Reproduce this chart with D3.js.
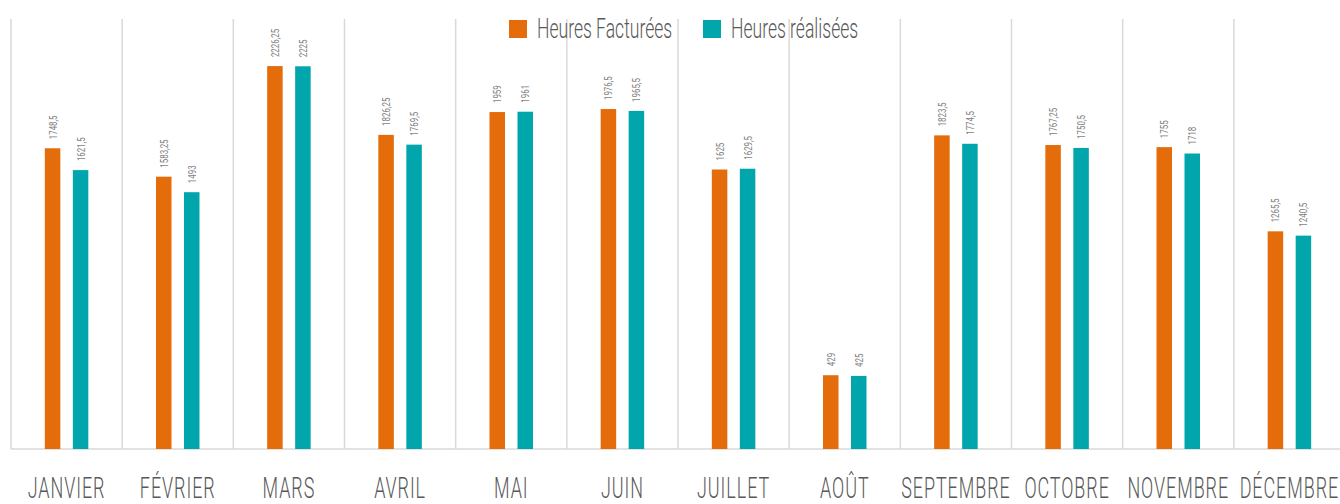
<!DOCTYPE html>
<html lang="fr">
<head>
  <meta charset="UTF-8">
  <title>heures</title>
  <script src="https://cdn.jsdelivr.net/npm/d3@7"></script>
  <style>
    body { margin: 0; background: #fff; }
    text { font-family: Roboto, "Liberation Sans", sans-serif; }
  </style>
</head>
<body>
<script>
let width = 1340;
let height = 504;

let months = ['JANVIER', 'FÉVRIER', 'MARS', 'AVRIL', 'MAI', 'JUIN', 'JUILLET', 'AOÛT',
  'SEPTEMBRE', 'OCTOBRE', 'NOVEMBRE', 'DÉCEMBRE'];
let facturees = [1748.5, 1583.25, 2226.25, 1826.25, 1959, 1976.5, 1625, 429, 1823.5, 1767.25, 1755, 1265.5];
let realisees = [1621.5, 1493, 2225, 1769.5, 1961, 1965.5, 1629.5, 425, 1774.5, 1750.5, 1718, 1240.5];
let seriesNames = ['Heures Facturées', 'Heures réalisées'];
let colors = ['#e46c0a', '#00a6ac'];

let svg = d3.select('body')
  .append('svg')
  .attr('width', width)
  .attr('height', height);

let x = d3.scaleBand()
  .domain(months)
  .range([11, 1345])
  .paddingInner(0)
  .paddingOuter(0);

let y = d3.scaleLinear()
  .domain([0, 2500])
  .range([449, 19]);

let barW = 15.5;
let gap = 12.5;

// vertical grid lines between categories
let bounds = months.map(m => x(m)).concat([x.range()[1]]);
svg.append('g')
  .selectAll('line')
  .data(bounds)
  .join('line')
  .attr('x1', d => d)
  .attr('x2', d => d)
  .attr('y1', y(2500))
  .attr('y2', y(0))
  .attr('stroke', '#d9d9d9')
  .attr('stroke-width', 1.5);

svg.append('line')
  .attr('x1', 11)
  .attr('x2', 1345)
  .attr('y1', y(0))
  .attr('y2', y(0))
  .attr('stroke', '#d9d9d9')
  .attr('stroke-width', 1.5);

let fmt = v => String(v).replace('.', ',');

[facturees, realisees].forEach(function (vals, si) {
  let offset = si === 0 ? -(gap / 2 + barW) : gap / 2;
  let g = svg.append('g');
  g.selectAll('rect')
    .data(vals)
    .join('rect')
    .attr('x', (d, i) => x(months[i]) + x.bandwidth() / 2 + offset)
    .attr('width', barW)
    .attr('y', d => y(d))
    .attr('height', d => y(0) - y(d))
    .attr('fill', colors[si]);

  g.selectAll('text')
    .data(vals)
    .join('text')
    .attr('transform', (d, i) => {
      let cx = x(months[i]) + x.bandwidth() / 2 + offset + barW / 2 + 4;
      return 'translate(' + cx + ',' + (y(d) - 9) + ') rotate(-90) scale(0.72,1)';
    })
    .attr('font-size', 11)
    .attr('fill', '#7f7f7f')
    .text(d => fmt(d));
});

// month labels
svg.append('g')
  .selectAll('text')
  .data(months)
  .join('text')
  .attr('transform', d => 'translate(' + (x(d) + x.bandwidth() / 2) + ',498) scale(0.62,1)')
  .attr('text-anchor', 'middle')
  .attr('font-size', 29)
  .attr('font-weight', 300)
  .attr('letter-spacing', 1.5)
  .attr('fill', '#595959')
  .text(d => d);

// legend
let legend = svg.append('g');
let legendX = [509, 703];
seriesNames.forEach(function (name, i) {
  legend.append('rect')
    .attr('x', legendX[i])
    .attr('y', 20)
    .attr('width', 18)
    .attr('height', 18)
    .attr('fill', colors[i]);
  legend.append('text')
    .attr('transform', 'translate(' + (legendX[i] + 28) + ',38) scale(0.65,1)')
    .attr('font-size', 27)
    .attr('font-weight', 300)
    .attr('fill', '#595959')
    .text(name);
});
</script>
</body>
</html>
